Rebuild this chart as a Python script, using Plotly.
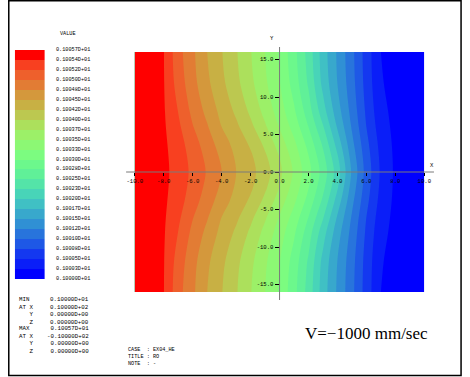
import plotly.graph_objects as go

W, H = 470, 377

# ---------------- data ----------------
x_vals = [-10, -9, -8, -7, -6, -5, -4, -3, -2, -1, 0, 1, 2, 3, 4, 5, 6, 7, 8, 9, 10]
y_vals = [-16, -12, -8, -6, -4, -2, 0, 2, 4, 6, 8, 12, 16]

z_y0 = [1.005700, 1.005605, 1.005509, 1.005362, 1.005142, 1.004934, 1.004709, 1.004461, 1.004296, 1.004075, 1.003779,
        1.003434, 1.003056, 1.002627, 1.002107, 1.001452, 1.000892, 1.000460, 1.000206, 1.000103, 1.000000]
z_y2 = [1.005698, 1.005601, 1.005505, 1.005345, 1.005116, 1.004895, 1.004663, 1.004427, 1.004256, 1.004011, 1.003712,
        1.003370, 1.002990, 1.002551, 1.002014, 1.001387, 1.000861, 1.000440, 1.000202, 1.000102, 1.000001]
z_y4 = [1.005697, 1.005597, 1.005497, 1.005309, 1.005060, 1.004823, 1.004576, 1.004360, 1.004164, 1.003893, 1.003588,
        1.003262, 1.002872, 1.002419, 1.001863, 1.001297, 1.000807, 1.000404, 1.000194, 1.000099, 1.000003]
z_y6 = [1.005694, 1.005590, 1.005486, 1.005255, 1.004971, 1.004732, 1.004461, 1.004267, 1.004029, 1.003753, 1.003454,
        1.003126, 1.002726, 1.002255, 1.001709, 1.001216, 1.000743, 1.000358, 1.000185, 1.000096, 1.000006]
z_y8 = [1.005692, 1.005584, 1.005476, 1.005200, 1.004895, 1.004644, 1.004386, 1.004172, 1.003920, 1.003643, 1.003353,
        1.003016, 1.002600, 1.002094, 1.001599, 1.001157, 1.000701, 1.000319, 1.000179, 1.000094, 1.000008]
z_y12 = [1.005689, 1.005576, 1.005463, 1.005095, 1.004793, 1.004509, 1.004269, 1.004033, 1.003776, 1.003510, 1.003232,
         1.002862, 1.002439, 1.001906, 1.001481, 1.001083, 1.000647, 1.000266, 1.000172, 1.000091, 1.000011]
z_y16 = [1.005688, 1.005573, 1.005458, 1.005047, 1.004758, 1.004461, 1.004225, 1.003989, 1.003731, 1.003470, 1.003186,
         1.002809, 1.002379, 1.001859, 1.001452, 1.001059, 1.000629, 1.000248, 1.000169, 1.000091, 1.000012]

value_min = 1.00000
value_max = 1.00570
n_bands = 23

# colour of each band, lowest value (blue) to highest value (red)
band_colors = ["#0000ff", "#0a1ef8", "#1438f0", "#1e58e6", "#2874dc", "#3090d4", "#38a8cc", "#40c0c4",
               "#48d4b8", "#54e4a8", "#60f098", "#6cf88c", "#7cfc80", "#8cf874", "#9cf068", "#ace05c",
               "#bcc850", "#c8b044", "#d4983c", "#e27c34", "#ee602c", "#f84020", "#ff0000"]

# legend labels, top to bottom
legend_labels = ["0.10057D+01", "0.10054D+01", "0.10052D+01", "0.10050D+01", "0.10048D+01", "0.10045D+01",
                 "0.10042D+01", "0.10040D+01", "0.10037D+01", "0.10035D+01", "0.10033D+01", "0.10030D+01",
                 "0.10028D+01", "0.10025D+01", "0.10023D+01", "0.10020D+01", "0.10017D+01", "0.10015D+01",
                 "0.10012D+01", "0.10010D+01", "0.10008D+01", "0.10005D+01", "0.10003D+01", "0.10000D+01"]

x_tick_vals = [-10, -8, -6, -4, -2, 0, 2, 4, 6, 8, 10]
x_tick_text = ["-10.0", "-8.0", "-6.0", "-4.0", "-2.0", "0.0", "2.0", "4.0", "6.0", "8.0", "10.0"]
y_tick_vals = [-15, -10, -5, 0, 5, 10, 15]
y_tick_text = ["-15.0", "-10.0", "-5.0", "0.0", "5.0", "10.0", "15.0"]

min_labels = ["MIN", "AT X", "\u00a0\u00a0\u00a0Y", "\u00a0\u00a0\u00a0Z"]
min_values = ["0.10000D+01", "0.10000D+02", "0.00000D+00", "0.00000D+00"]
max_labels = ["MAX", "AT X", "\u00a0\u00a0\u00a0Y", "\u00a0\u00a0\u00a0Z"]
max_values = ["0.10057D+01", "-0.10000D+02", "0.00000D+00", "0.00000D+00"]
info_lines = ["CASE\u00a0\u00a0: EX04_HE", "TITLE : RO", "NOTE\u00a0\u00a0: -"]
speed_text = "V=\u22121000 mm/sec"

# ---------------- layout helpers (pixels -> paper) ----------------
def px(x):
    return x / W

def py(y):
    return (H - y) / H

x_dom = [px(131), px(430)]
y_dom = [py(292), py(52)]
x_axis_pos = (y_dom[0] + y_dom[1]) / 2      # paper y of data y=0
y_axis_pos = (x_dom[0] + x_dom[1]) / 2      # paper x of data x=0

z_grid = [z_y16, z_y12, z_y8, z_y6, z_y4, z_y2, z_y0, z_y2, z_y4, z_y6, z_y8, z_y12, z_y16]
step = (value_max - value_min) / n_bands
colorscale = [[i / (n_bands - 1), c] for i, c in enumerate(band_colors)]

fig = go.Figure()
fig.add_trace(go.Contour(
    x=x_vals, y=y_vals, z=z_grid,
    autocontour=False,
    contours=dict(start=value_min + step, end=value_min + (n_bands - 1) * step, size=step, coloring="fill"),
    colorscale=colorscale, showscale=False, line=dict(width=0), hoverinfo="skip",
    xaxis="x", yaxis="y",
))

# legend bar
fig.add_trace(go.Heatmap(
    z=[[i] for i in range(n_bands)], x=[0], y=[i + 0.5 for i in range(n_bands)],
    colorscale=colorscale, zmin=0, zmax=n_bands - 1, showscale=False, hoverinfo="skip",
    xaxis="x2", yaxis="y2",
))

tick_font = dict(family="Liberation Mono", size=5.6, color="black")
small_font = dict(family="Liberation Mono", size=5.2, color="black")
block_font = dict(family="Liberation Mono", size=5.8, color="black")

annotations = []
for i, lab in enumerate(legend_labels):
    annotations.append(dict(x=px(48), y=n_bands - i, xref="paper", yref="y2", text=lab, showarrow=False,
                            xanchor="left", yanchor="middle", font=small_font))
annotations.append(dict(x=px(62), y=py(34), xref="paper", yref="paper", text="VALUE", showarrow=False,
                        xanchor="center", yanchor="middle", font=small_font))
annotations.append(dict(x=px(438), y=py(165), xref="paper", yref="paper", text="X", showarrow=False,
                        xanchor="center", yanchor="middle", font=tick_font))
annotations.append(dict(x=px(273), y=py(39), xref="paper", yref="paper", text="Y", showarrow=False,
                        xanchor="center", yanchor="middle", font=tick_font))

for labs, vals, ytop in [(min_labels, min_values, 294), (max_labels, max_values, 323)]:
    annotations.append(dict(x=px(9), y=py(ytop), xref="paper", yref="paper", text="<br>".join(labs),
                            showarrow=False, xanchor="left", yanchor="top", align="left", font=block_font))
    annotations.append(dict(x=px(86), y=py(ytop), xref="paper", yref="paper", text="<br>".join(vals),
                            showarrow=False, xanchor="right", yanchor="top", align="right", font=block_font))

annotations.append(dict(x=px(122), y=py(345), xref="paper", yref="paper", text="<br>".join(info_lines),
                        showarrow=False, xanchor="left", yanchor="top", align="left", font=small_font))

annotations.append(dict(x=px(305), y=py(333), xref="paper", yref="paper", text=speed_text, showarrow=False,
                        xanchor="left", yanchor="middle",
                        font=dict(family="Liberation Serif", size=17, color="black")))

shapes = [
    dict(type="line", xref="paper", yref="paper", x0=px(122), x1=px(440), y0=x_axis_pos, y1=x_axis_pos,
         line=dict(color="#7a7a7a", width=1)),
    dict(type="line", xref="paper", yref="paper", x0=y_axis_pos, x1=y_axis_pos, y0=py(300), y1=py(47),
         line=dict(color="#7a7a7a", width=1)),
    dict(type="rect", xref="paper", yref="paper", x0=px(0.8), x1=px(468), y0=py(375.5), y1=py(0.8),
         line=dict(color="black", width=1.5), fillcolor="rgba(0,0,0,0)"),
]

fig.update_layout(
    width=W, height=H, margin=dict(l=0, r=0, t=0, b=0),
    paper_bgcolor="white", plot_bgcolor="white", showlegend=False,
    xaxis=dict(domain=x_dom, range=[-10, 10], anchor="free", position=x_axis_pos,
               tickvals=x_tick_vals, ticktext=x_tick_text, ticks="outside", ticklen=3, tickcolor="black",
               tickwidth=1, showline=False, showgrid=False, zeroline=False, tickfont=tick_font, fixedrange=True),
    yaxis=dict(domain=y_dom, range=[-16, 16], anchor="free", position=y_axis_pos, side="left",
               tickvals=y_tick_vals, ticktext=y_tick_text, ticks="outside", ticklen=5, tickcolor="black",
               tickwidth=1, showline=False, showgrid=False, zeroline=False, tickfont=tick_font, fixedrange=True),
    xaxis2=dict(domain=[px(7), px(38)], range=[-0.5, 0.5], visible=False, anchor="y2", fixedrange=True),
    yaxis2=dict(domain=[py(279), py(50)], range=[0, n_bands], visible=False, anchor="x2", fixedrange=True),
    annotations=annotations, shapes=shapes,
)

post_js = (
    "document.documentElement.style.margin='0px';"
    "document.documentElement.style.padding='0px';"
    "document.documentElement.style.overflow='hidden';"
    "document.body.style.margin='0px';"
    "document.body.style.padding='0px';"
    "document.body.style.overflow='hidden';"
    "var gd=document.getElementById('{plot_id}');"
    "gd.style.position='absolute';gd.style.left='0px';gd.style.top='0px';"
    "window.scrollTo(0,0);"
)

fig.write_html("out.html", config={"displayModeBar": False, "staticPlot": True}, post_script=post_js)
